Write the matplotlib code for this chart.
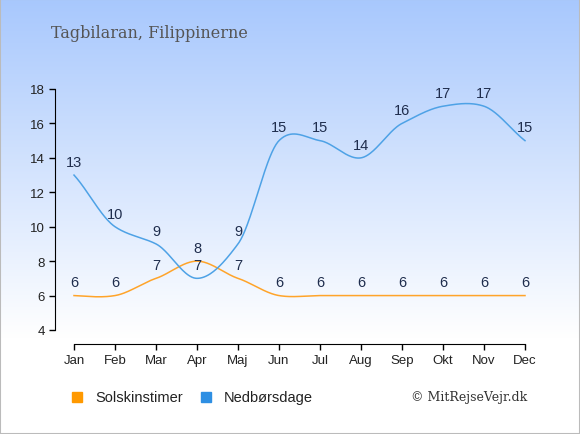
import numpy as np
import matplotlib
matplotlib.use("Agg")
import matplotlib.pyplot as plt
from matplotlib.patches import Rectangle

months = ["Jan", "Feb", "Mar", "Apr", "Maj", "Jun", "Jul", "Aug", "Sep", "Okt", "Nov", "Dec"]
sun_hours = [6, 6, 7, 8, 7, 6, 6, 6, 6, 6, 6, 6]
rain_days = [13, 10, 9, 7, 9, 15, 15, 14, 16, 17, 17, 15]
yticks = [4, 6, 8, 10, 12, 14, 16, 18]
title = "Tagbilaran, Filippinerne"
series_names = ["Solskinstimer", "Nedbørsdage"]
credit = "© MitRejseVejr.dk"

W, H = 580, 435
fig = plt.figure(figsize=(W / 100, H / 100), dpi=100)

# background gradient
bg = fig.add_axes([0, 0, 1, 1], zorder=-10)
top = np.array([168, 200, 253]) / 255
bot = np.array([255, 255, 255]) / 255
t = np.linspace(0, 1, 256)[:, None]
frac = np.clip(t / 0.78, 0, 1)
grad = (top[None, :] * (1 - frac) + bot[None, :] * frac)[:, None, :]
bg.imshow(grad, aspect="auto", extent=[0, 1, 0, 1], origin="upper")
bg.set_xlim(0, 1); bg.set_ylim(0, 1)
bg.axis("off")
bg.add_patch(Rectangle((0, 0), 1, 1, transform=bg.transAxes, fill=False,
                       edgecolor="#bbbbbb", linewidth=1.5))

x0px, x11px = 74, 525
ppu = (x11px - x0px) / 11
left_px, right_px = 55, 540
xl = (left_px - x0px) / ppu
xr = 11 + (right_px - x11px) / ppu
ax = fig.add_axes([left_px / W, (H - 331) / H, (right_px - left_px) / W, (331 - 90) / H])
ax.set_facecolor("none")
ax.set_xlim(xl, xr)
ax.set_ylim(4, 18)


def smooth(y, n=40, k=0.8):
    y = np.asarray(y, float)
    x = np.arange(len(y), dtype=float)
    m = np.zeros_like(y)
    m[1:-1] = k * (y[2:] - y[:-2]) / 2.0
    m[0] = (3 * (y[1] - y[0]) - m[1]) / 2.0 * 0.7
    m[-1] = (3 * (y[-1] - y[-2]) - m[-2]) / 2.0 * 0.7
    xs, ys = [], []
    for i in range(len(y) - 1):
        s = np.linspace(0, 1, n, endpoint=False)
        h00 = 2 * s**3 - 3 * s**2 + 1
        h10 = s**3 - 2 * s**2 + s
        h01 = -2 * s**3 + 3 * s**2
        h11 = s**3 - s**2
        xs.append(x[i] + s)
        ys.append(h00 * y[i] + h10 * m[i] + h01 * y[i + 1] + h11 * m[i + 1])
    xs.append([x[-1]]); ys.append([y[-1]])
    return np.concatenate(xs), np.concatenate(ys)

label_color = "#1f2d4d"
for vals, col in [(sun_hours, "#ffa42a"), (rain_days, "#4ea2e6")]:
    sx, sy = smooth(vals)
    ax.plot(sx, sy, color=col, linewidth=1.1, zorder=3)
    for i, v in enumerate(vals):
        ax.annotate(str(v), (i, v), xytext=(0, 9.5), textcoords="offset points",
                    ha="center", va="center", fontsize=10.5, color=label_color,
                    family="Liberation Sans", zorder=4)

for s in ["top", "right"]:
    ax.spines[s].set_visible(False)
ax.spines["left"].set_bounds(4, 18)
ax.spines["bottom"].set_position(("outward", 10))
ax.spines["bottom"].set_bounds(0, 11)
ax.set_xticks(range(12))
ax.set_xticklabels(months)
ax.set_yticks(yticks)
ax.tick_params(axis="both", length=4, width=1, labelsize=9.5, colors="black")
for lab in ax.get_xticklabels() + ax.get_yticklabels():
    lab.set_family("Liberation Sans")
    lab.set_color("#222222")

fig.text(51 / W, 1 - 33 / H, title, fontsize=11.5, family="DejaVu Serif",
         color="#555555", ha="left", va="center")

# legend
ly = 1 - 398 / H
for xp, col, name in [(77, "#ff9900", series_names[0]), (206, "#2e8fe3", series_names[1])]:
    fig.patches.append(Rectangle((xp / W - 5 / W, ly - 5 / H), 10 / W, 10 / H,
                                 transform=fig.transFigure, color=col))
    fig.text((xp + 18) / W, ly, name, fontsize=10.5, family="Liberation Sans",
             color="#222222", ha="left", va="center")
fig.text(527 / W, ly, credit, fontsize=9, family="DejaVu Serif",
         color="#333333", ha="right", va="center")

fig.savefig("out.png", dpi=100)
